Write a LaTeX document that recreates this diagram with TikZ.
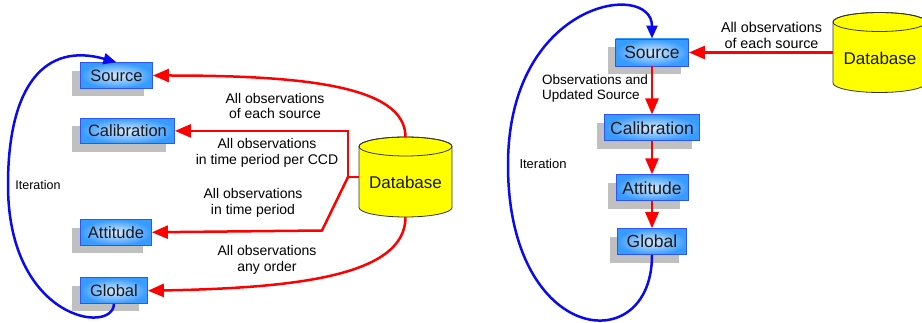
\documentclass[tikz,border=0pt]{standalone}
\usepackage{fontspec}
\setmainfont{Liberation Sans}
\usetikzlibrary{arrows.meta,positioning,shadows}

\definecolor{boxin}{RGB}{215,235,255}
\definecolor{boxout}{RGB}{55,155,255}
\definecolor{boxline}{RGB}{45,85,255}
\definecolor{shadowgray}{RGB}{192,192,192}
\definecolor{flowred}{RGB}{255,0,0}
\definecolor{iterblue}{RGB}{10,10,240}
\definecolor{dbyellow}{RGB}{255,255,0}

\begin{document}
\begin{tikzpicture}[
  x=1pt, y=-1pt,
  module/.style={
    draw=boxline,
    line width=0.9pt,
    inner color=boxin,
    outer color=boxout,
    text=black!90,
    font=\fontsize{16.5}{19}\selectfont,
    minimum height=25.5pt,
    inner xsep=2pt,
    inner ysep=0pt,
    drop shadow={shadow xshift=-8pt, shadow yshift=-8pt, fill=shadowgray, opacity=1}
  },
  store/.style={minimum width=93pt, minimum height=80pt, inner sep=0pt, outer sep=0pt},
  dbtext/.style={font=\fontsize{17}{20}\selectfont, text=black!90},
  lbl/.style={align=center, font=\fontsize{14}{15.5}\selectfont, inner sep=0pt},
  note/.style={font=\fontsize{12.5}{14}\selectfont, inner sep=0pt},
  feed/.style={-{Triangle[length=16pt,width=13pt]}, draw=flowred, line width=2.5pt},
  iter/.style={-{Triangle[length=13pt,width=11pt]}, draw=iterblue, line width=2.5pt}
]
\useasboundingbox (0,0) rectangle (922,323);

% left: parallel access
\node[module, minimum width=72pt, anchor=west] (srcL) at (80,75.5) {Source};
\node[module, minimum width=94pt, below=29pt of srcL.south west, anchor=north west] (calL) {Calibration};
\node[module, minimum width=71pt, below=75pt of calL.south west, anchor=north west] (attL) {Attitude};
\node[module, minimum width=67pt, below=32pt of attL.south west, anchor=north west] (gloL) {Global};
\node[store] (dbL) at (405.5,177) {};

% right: sequential chain
\node[module, font=\fontsize{17.5}{20}\selectfont, minimum width=73pt, minimum height=27pt] (srcR) at (652,52.5) {Source};
\node[module, font=\fontsize{17.5}{20}\selectfont, minimum width=95pt, minimum height=26pt, below=48pt of srcR] (calR) {Calibration};
\node[module, font=\fontsize{17.5}{20}\selectfont, minimum width=72pt, minimum height=26pt, below=33pt of calR] (attR) {Attitude};
\node[module, font=\fontsize{17.5}{20}\selectfont, minimum width=69pt, minimum height=26pt, below=27pt of attR] (gloR) {Global};
\node[store] (dbR) at (879.5,52.5) {};

% cylinders
\foreach \d in {dbL,dbR}{
  \begin{scope}[shift={(\d.center)}]
    \filldraw[fill=dbyellow, draw=black!80, line width=0.8pt]
      (-46.5,-30.5) -- (-46.5,30.5)
      arc[start angle=180, end angle=360, x radius=46.5pt, y radius=9.5pt]
      -- (46.5,-30.5)
      arc[start angle=0, end angle=180, x radius=46.5pt, y radius=9.5pt] -- cycle;
    \draw[black!80, line width=0.8pt] (0,-30.5) ellipse [x radius=46.5pt, y radius=9.5pt];
  \end{scope}
}
\node[dbtext] (dbLtext) at (405.5,182) {Database};
\node[dbtext] (dbRtext) at (880,58) {Database};

% labels
\node[lbl] (lblSrcL) at (275,106) {All observations\\of each source};
\node[lbl] (lblCalL) at (267,153) {All observations\\in time period per CCD};
\node[lbl] (lblAttL) at (253,203) {All observations\\in time period};
\node[lbl] (lblGloL) at (267,260) {All observations\\any order};
\node[note] (iterL) at (38,185) {Iteration};
\node[lbl, font=\fontsize{14.3}{16}\selectfont] (lblSrcR) at (771.5,35) {All observations\\of each source};
\node[lbl, align=left, anchor=west, font=\fontsize{13.5}{15}\selectfont] (lblChainR) at (542,88.5) {Observations and\\Updated Source};
\node[note, font=\fontsize{13}{15}\selectfont] (iterR) at (543,164) {Iteration};

% connectors left
\coordinate (jL) at (348,177);
\coordinate (kL) at (322,230.5);
\draw[feed] (dbL.north) .. controls (405.5,85) and (300,75.5) .. (srcL.east);
\draw[feed] (dbL.west) -- (jL) |- (calL.east);
\draw[feed] (jL) -- (kL) -- (attL.east);
\draw[feed] (dbL.south) .. controls (405.5,275) and (300,288) .. (gloL.east);
\draw[iter] (gloL.south) .. controls (113,335) and (8,320) .. (8,185)
  .. controls (8,85) and (45,42) .. (srcL.north);

% connectors right
\draw[feed] (dbR.west) -- (srcR.east);
\draw[feed] (srcR) -- (calR);
\draw[feed] (calR) -- (attR);
\draw[feed] (attR) -- (gloR);
\draw[iter] (gloR.south) .. controls (652,360) and (508,345) .. (508,165)
  .. controls (508,0) and (652,-20) .. (srcR.north);
\end{tikzpicture}
\end{document}
